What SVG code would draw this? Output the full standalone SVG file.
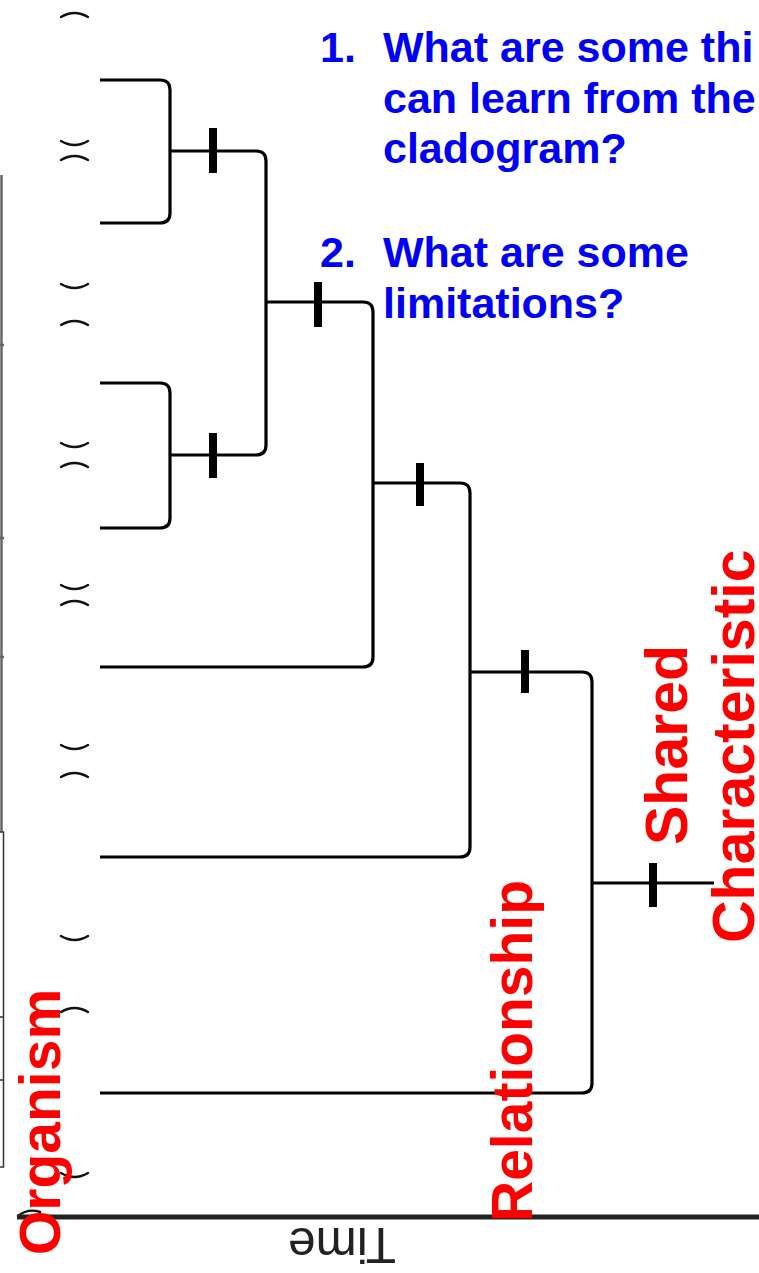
<svg xmlns="http://www.w3.org/2000/svg" width="759" height="1273" viewBox="0 0 759 1273">
<style>
.br{fill:none;stroke:#000;stroke-width:3.2;stroke-linejoin:round}
.tick{fill:#000}
.arc{fill:none;stroke:#111;stroke-width:2.4;stroke-linecap:round}
.q{font-family:"Liberation Sans",Arial,sans-serif;font-weight:bold;font-size:43px;fill:#0000F5}
.red{font-family:"Liberation Sans",Arial,sans-serif;font-weight:bold;font-size:57px;fill:#FF0000}
.red2{font-family:"Liberation Sans",Arial,sans-serif;font-weight:bold;font-size:59px;fill:#FF0000}
.time{font-family:"Liberation Sans",Arial,sans-serif;font-size:50px;fill:#222}
.frame{fill:none;stroke:#666;stroke-width:2.5}
.frame2{fill:none;stroke:#333;stroke-width:1.5}
</style>
<rect width="759" height="1273" fill="#fff"/>
<g id="frame">
<line class="frame" x1="1.5" y1="175" x2="1.5" y2="832"/>
<line class="frame" x1="0" y1="345" x2="4" y2="345"/>
<line class="frame" x1="0" y1="538" x2="4" y2="538"/>
<line class="frame" x1="0" y1="657" x2="4" y2="657"/>
<path class="frame2" d="M0,832 H3.5 V1167 H0 M0,1017 H3.5 M0,1080 H3.5"/>
</g>
<g id="arcs">
<path class="arc" d="M61,17 Q74.5,9 88,17"/>
<path class="arc" d="M61,141 Q74.5,149 88,141"/>
<path class="arc" d="M61,160 Q74.5,152 88,160"/>
<path class="arc" d="M61,284 Q74.5,292 88,284"/>
<path class="arc" d="M61,325 Q74.5,317 88,325"/>
<path class="arc" d="M61,443 Q74.5,451 88,443"/>
<path class="arc" d="M61,467 Q74.5,459 88,467"/>
<path class="arc" d="M61,585 Q74.5,593 88,585"/>
<path class="arc" d="M61,605 Q74.5,597 88,605"/>
<path class="arc" d="M61,745 Q74.5,753 88,745"/>
<path class="arc" d="M61,777 Q74.5,769 88,777"/>
<path class="arc" d="M61,936 Q74.5,944 88,936"/>
<path class="arc" d="M61,1012 Q74.5,1004 88,1012"/>
<path class="arc" d="M61,1173 Q74.5,1181 88,1173"/>
<path class="arc" d="M18,1216 Q28,1208 40,1212"/>
</g>
<g id="connectors">
<path class="br" d="M100,80 H160 Q170,80 170,90 V213 Q170,223 160,223 H100"/>
<path class="br" d="M100,383 H160 Q170,383 170,393 V518 Q170,528 160,528 H100"/>
<path class="br" d="M170,151 H256 Q266,151 266,161 V445 Q266,455 256,455 H170"/>
<path class="br" d="M266,302 H363 Q373,302 373,312 V657 Q373,667 363,667 H100"/>
<path class="br" d="M373,483 H460 Q470,483 470,493 V847 Q470,857 460,857 H100"/>
<path class="br" d="M470,672 H582 Q592,672 592,682 V1083 Q592,1093 582,1093 H100"/>
<path class="br" d="M592,883 H714"/>
</g>
<g id="ticks">
<rect class="tick" x="209" y="128" width="8" height="45"/>
<rect class="tick" x="209" y="433" width="8" height="45"/>
<rect class="tick" x="314" y="282" width="8" height="45"/>
<rect class="tick" x="416" y="463" width="8" height="43"/>
<rect class="tick" x="521" y="650" width="8" height="43"/>
<rect class="tick" x="649" y="863" width="8" height="44"/>
</g>
<g id="time-axis">
<line x1="17" y1="1217" x2="759" y2="1217" stroke="#222" stroke-width="5"/>
<text class="time" transform="translate(342,1228) rotate(180)" text-anchor="middle" textLength="108" lengthAdjust="spacingAndGlyphs">Time</text>
</g>
<g id="question1">
<text class="q" x="320" y="62">1.</text>
<text class="q" x="383" y="62">What are some thi</text>
<text class="q" x="383" y="113">can learn from the</text>
<text class="q" x="383" y="163">cladogram?</text>
</g>
<g id="question2">
<text class="q" x="320" y="267">2.</text>
<text class="q" x="383" y="267">What are some</text>
<text class="q" x="383" y="318">limitations?</text>
</g>
<g id="label-organism">
<text class="red" transform="translate(60,1255) rotate(-90)">Organism</text>
</g>
<g id="label-relationship">
<text class="red" transform="translate(532,1222) rotate(-90)">Relationship</text>
</g>
<g id="label-shared">
<text class="red2" transform="translate(687,845) rotate(-90)">Shared</text>
<text class="red2" transform="translate(754,943) rotate(-90)">Characteristic</text>
</g>
</svg>
